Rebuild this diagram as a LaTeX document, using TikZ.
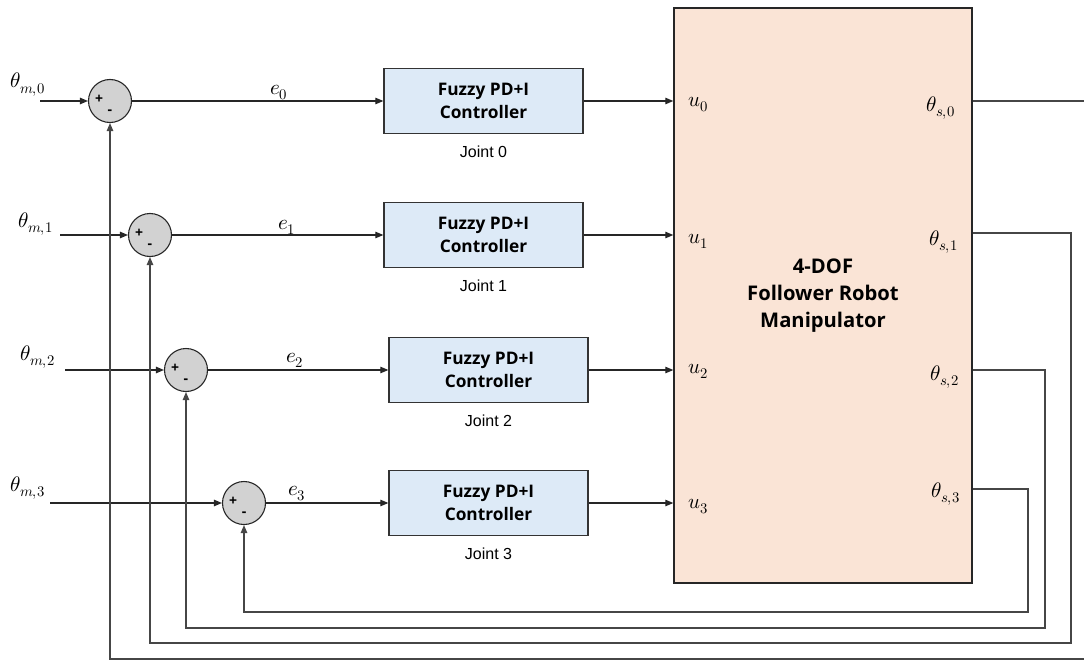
\documentclass[tikz,border=0pt]{standalone}
\usepackage{fontspec}
\usepackage{unicode-math}
\setmainfont{Open Sans}
\newfontfamily\jointfont{Liberation Sans}
\usetikzlibrary{arrows.meta,positioning}
\definecolor{ctrlfill}{RGB}{221,234,247}
\definecolor{robotfill}{RGB}{250,228,214}
\definecolor{sumfill}{RGB}{210,210,210}
\definecolor{linegray}{RGB}{70,70,70}
\tikzset{
  x=1pt, y=-1pt,
  sumj/.style={circle, draw=black!85, line width=1.1pt, fill=sumfill, minimum size=43pt, inner sep=0pt},
  pm/.style={font=\fontsize{14}{14}\selectfont\bfseries, inner sep=0pt},
  ctrl/.style={rectangle, draw=black!80, line width=1.3pt, fill=ctrlfill, minimum width=199pt, minimum height=65pt,
    align=center, font=\fontsize{17.3}{23}\selectfont\bfseries},
  robot/.style={rectangle, draw=black!85, line width=1.4pt, fill=robotfill, minimum width=298pt, minimum height=575pt,
    align=center, font=\fontsize{20.2}{27}\selectfont\bfseries},
  jlab/.style={font=\fontsize{16}{16}\selectfont\jointfont, inner sep=0pt},
  sig/.style={font=\fontsize{21}{21}\selectfont, inner sep=0pt, anchor=base west},
  arr/.style={line width=1.1pt, draw=black!85, -{Triangle[length=8pt,width=6.5pt]}},
  fb/.style={line width=1.1pt, draw=linegray, -{Triangle[length=8pt,width=6.5pt]}},
}
\begin{document}
\begin{tikzpicture}
\useasboundingbox (0,0) rectangle (1084,661);

% plant block
\node[robot] (r) at (823,295.5) {4-DOF\\Follower Robot\\Manipulator};

% summing junctions
\node[sumj] (s0) at (110,101) {};
\node[sumj] (s1) at (150,235) {};
\node[sumj] (s2) at (186,370) {};
\node[sumj] (s3) at (244,503) {};
\foreach \k in {0,1,2,3}{
  \node[pm] (p\k) at ([shift={(-11,-2)}]s\k.center) {+};
  \node[pm] (m\k) at ([shift={(0,11)}]s\k.center) {-};
}

% controllers
\node[ctrl] (c0) at (483.5,101) {Fuzzy PD+I\\Controller};
\node[ctrl] (c1) at (483.5,235) {Fuzzy PD+I\\Controller};
\node[ctrl] (c2) at (488.5,370) {Fuzzy PD+I\\Controller};
\node[ctrl] (c3) at (488.5,503) {Fuzzy PD+I\\Controller};
\foreach \k in {0,1,2,3}{
  \node[jlab, below=12pt of c\k] (j\k) {Joint \k};
}

% reference inputs
\coordinate (in0) at (40,101);
\coordinate (in1) at (60,235);
\coordinate (in2) at (65,370);
\coordinate (in3) at (50,503);
\node[sig] (tm0) at (10,88) {$\theta_{m,0}$};
\node[sig] (tm1) at (18,227) {$\theta_{m,1}$};
\node[sig] (tm2) at (20,360) {$\theta_{m,2}$};
\node[sig] (tm3) at (10,491) {$\theta_{m,3}$};
\foreach \k in {0,1,2,3}{
  \draw[arr] (in\k) -- (s\k.west);
}

% error signals
\draw[arr] (s0.east) -- (s0.east -| c0.west);
\draw[arr] (s1.east) -- (s1.east -| c1.west);
\draw[arr] (s2.east) -- (s2.east -| c2.west);
\draw[arr] (s3.east) -- (s3.east -| c3.west);
\node[sig] (e0) at (270,94) {$e_0$};
\node[sig] (e1) at (278,229) {$e_1$};
\node[sig] (e2) at (286,362) {$e_2$};
\node[sig] (e3) at (288,495) {$e_3$};

% control signals
\foreach \k in {0,1,2,3}{
  \draw[arr] (c\k.east) -- (c\k.east -| r.west);
}
\node[sig] (u0) at (688,106) {$u_0$};
\node[sig] (u1) at (688,243) {$u_1$};
\node[sig] (u2) at (688,373) {$u_2$};
\node[sig] (u3) at (688,508) {$u_3$};

% joint outputs
\coordinate (o0) at (973,101);
\coordinate (o1) at (973,233);
\coordinate (o2) at (973,370);
\coordinate (o3) at (973,489);
\node[sig] (ts0) at (926,111) {$\theta_{s,0}$};
\node[sig] (ts1) at (929,245) {$\theta_{s,1}$};
\node[sig] (ts2) at (930,380) {$\theta_{s,2}$};
\node[sig] (ts3) at (931,497) {$\theta_{s,3}$};

% feedback paths
\coordinate (f0) at (1092,659);
\coordinate (f1) at (1071,643);
\coordinate (f2) at (1045,628);
\coordinate (f3) at (1028,612);
\draw[fb] (o0) -| (f0) -| (s0.south);
\draw[fb] (o1) -| (f1) -| (s1.south);
\draw[fb] (o2) -| (f2) -| (s2.south);
\draw[fb] (o3) -| (f3) -| (s3.south);
\end{tikzpicture}
\end{document}
